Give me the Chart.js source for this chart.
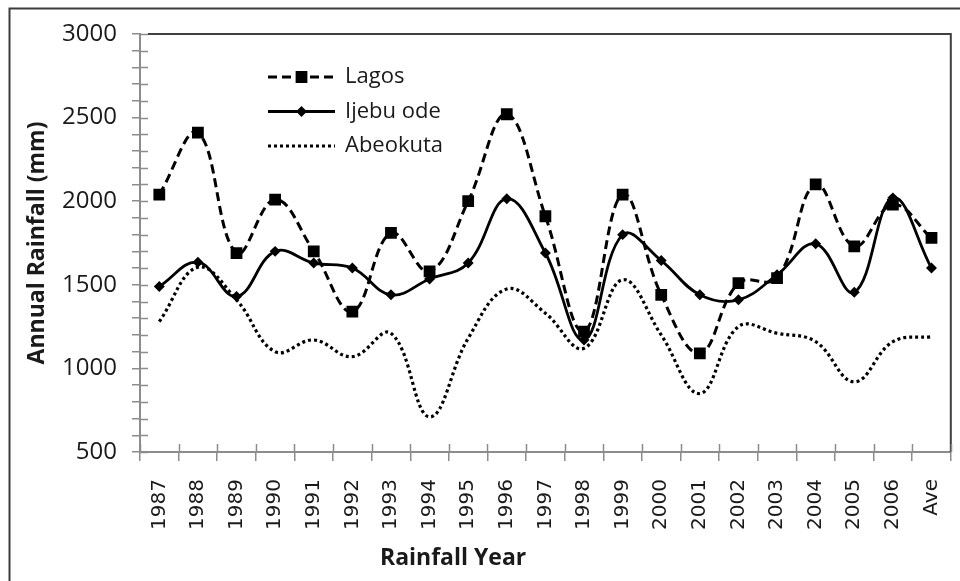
<!DOCTYPE html>
<html>
<head>
<meta charset="utf-8">
<title>Annual Rainfall</title>
<script src="https://cdn.jsdelivr.net/npm/chart.js@4.4.0/dist/chart.umd.min.js"></script>
<style>
  html, body { margin: 0; padding: 0; background: #fff; }
  #wrap { position: relative; width: 960px; height: 581px; }
</style>
</head>
<body>
<div id="wrap"><canvas id="rainChart" width="960" height="581"></canvas></div>
<script>
// rainfall data (mm)
const years = ["1987", "1988", "1989", "1990", "1991", "1992", "1993", "1994", "1995", "1996",
               "1997", "1998", "1999", "2000", "2001", "2002", "2003", "2004", "2005", "2006", "Ave"];
const lagos    = [2040, 2410, 1690, 2010, 1700, 1340, 1810, 1580, 2000, 2520, 1910, 1220, 2040, 1440, 1090, 1510, 1540, 2100, 1730, 1980, 1780];
const ijebuOde = [1490, 1635, 1430, 1700, 1630, 1600, 1440, 1535, 1630, 2015, 1690, 1170, 1800, 1645, 1440, 1410, 1560, 1745, 1455, 2020, 1600];
const abeokuta = [1280, 1605, 1410, 1100, 1170, 1070, 1210, 710, 1180, 1475, 1330, 1120, 1530, 1200, 850, 1250, 1210, 1160, 920, 1160, 1190];
const yMin = 500, yMax = 3000, yMajor = 500, yMinor = 100;

const axisGrey = "#8c8c8c";
const textColor = "#1a1a1a";

// frame, inner tick marks, legend and x title drawn on top of the chart
const decorPlugin = {
    id: "decor",
    beforeDraw(chart) {
        const ctx = chart.ctx;
        ctx.save();
        ctx.strokeStyle = "#3c3c3c";
        ctx.lineWidth = 2;
        ctx.beginPath();
        ctx.moveTo(9.5, 600);
        ctx.lineTo(9.5, 8.5);
        ctx.lineTo(970, 8.5);
        ctx.stroke();
        ctx.restore();
    },
    afterDraw(chart) {
        const ctx = chart.ctx;
        const a = chart.chartArea;
        const ys = chart.scales.y;
        ctx.save();

        // plot area border (top + right)
        ctx.strokeStyle = "#404040";
        ctx.lineWidth = 2;
        ctx.beginPath();
        ctx.moveTo(a.left + 8, a.top);
        ctx.lineTo(a.right, a.top);
        ctx.lineTo(a.right, a.bottom);
        ctx.stroke();

        // tick marks crossing into the plot
        ctx.strokeStyle = axisGrey;
        ctx.lineWidth = 1.5;
        ctx.beginPath();
        ys.ticks.forEach(t => {
            const py = Math.round(ys.getPixelForValue(t.value)) + 0.5;
            ctx.moveTo(a.left, py);
            ctx.lineTo(a.left + 8, py);
        });
        const n = years.length;
        for (let i = 0; i <= n; i++) {
            const px = Math.round(a.left + i * (a.right - a.left) / n) + 0.5;
            ctx.moveTo(px, a.bottom);
            ctx.lineTo(px, a.bottom - 8);
        }
        ctx.stroke();

        // legend
        const lx0 = 268, lx1 = 335, ly0 = 77, lstep = 34.5;
        chart.data.datasets.forEach((ds, i) => {
            const y = ly0 + i * lstep;
            ctx.strokeStyle = ds.borderColor;
            ctx.lineWidth = ds.borderWidth;
            ctx.setLineDash(ds.borderDash || []);
            ctx.beginPath();
            ctx.moveTo(lx0, y);
            ctx.lineTo(lx1, y);
            ctx.stroke();
            ctx.setLineDash([]);
            if (ds.pointRadius > 0) {
                ctx.fillStyle = ds.pointBackgroundColor;
                ctx.strokeStyle = ds.pointBorderColor;
                Chart.helpers.drawPoint(ctx, {
                    pointStyle: ds.pointStyle, radius: ds.pointRadius, rotation: 0, borderWidth: 1
                }, (lx0 + lx1) / 2, y);
            }
            ctx.fillStyle = textColor;
            ctx.font = "22px 'Open Sans'";
            ctx.textBaseline = "middle";
            ctx.textAlign = "left";
            ctx.fillText(ds.label, 345, y);
        });

        // x axis title
        ctx.fillStyle = textColor;
        ctx.font = "bold 23px 'Open Sans'";
        ctx.textBaseline = "alphabetic";
        ctx.textAlign = "left";
        ctx.fillText("Rainfall Year", 380, 565);
        ctx.restore();
    }
};

const ctx = document.getElementById("rainChart").getContext("2d");
const rainChart = new Chart(ctx, {
    type: "line",
    data: {
        labels: years,
        datasets: [
            {
                label: "Lagos",
                data: lagos,
                borderColor: "#000",
                borderWidth: 3,
                borderDash: [9, 5],
                pointStyle: "rect",
                pointRadius: 6.2,
                pointBackgroundColor: "#000",
                pointBorderColor: "#000",
                tension: 0.4
            },
            {
                label: "Ijebu ode",
                data: ijebuOde,
                borderColor: "#000",
                borderWidth: 2.8,
                pointStyle: "rectRot",
                pointRadius: 3.5,
                pointBackgroundColor: "#000",
                pointBorderColor: "#000",
                tension: 0.4
            },
            {
                label: "Abeokuta",
                data: abeokuta,
                borderColor: "#000",
                borderWidth: 3.2,
                borderDash: [3, 3],
                pointRadius: 0,
                pointBackgroundColor: "#000",
                pointBorderColor: "#000",
                tension: 0.4
            }
        ]
    },
    options: {
        responsive: false,
        animation: false,
        layout: { padding: { left: 0, top: 34, right: 9, bottom: 0 } },
        plugins: {
            legend: { display: false },
            tooltip: { enabled: false }
        },
        scales: {
            x: {
                offset: true,
                grid: {
                    offset: true,
                    drawOnChartArea: false,
                    color: axisGrey,
                    lineWidth: 1.5,
                    tickLength: 9
                },
                border: { color: axisGrey, width: 2 },
                ticks: {
                    autoSkip: false,
                    minRotation: 90,
                    maxRotation: 90,
                    padding: 18,
                    color: textColor,
                    font: { family: "'DejaVu Sans'", size: 20 }
                },
                afterFit(scale) {
                    scale.height = 129;
                    scale.paddingLeft = 0;
                    scale.paddingRight = 0;
                }
            },
            y: {
                min: yMin,
                max: yMax,
                grid: {
                    drawOnChartArea: false,
                    color: axisGrey,
                    lineWidth: 1.5,
                    tickLength: 8
                },
                border: { color: axisGrey, width: 2 },
                ticks: {
                    stepSize: yMinor,
                    autoSkip: false,
                    padding: 15,
                    color: textColor,
                    font: { family: "'Open Sans'", size: 24 },
                    callback: v => (v % yMajor === 0 ? String(v) : "")
                },
                title: {
                    display: true,
                    text: "Annual Rainfall (mm)",
                    color: textColor,
                    font: { family: "'Open Sans'", size: 23, weight: "bold" },
                    padding: { top: 24, bottom: 0 }
                },
                afterFit(scale) { scale.width = 140; }
            }
        }
    },
    plugins: [decorPlugin]
});
</script>
</body>
</html>
